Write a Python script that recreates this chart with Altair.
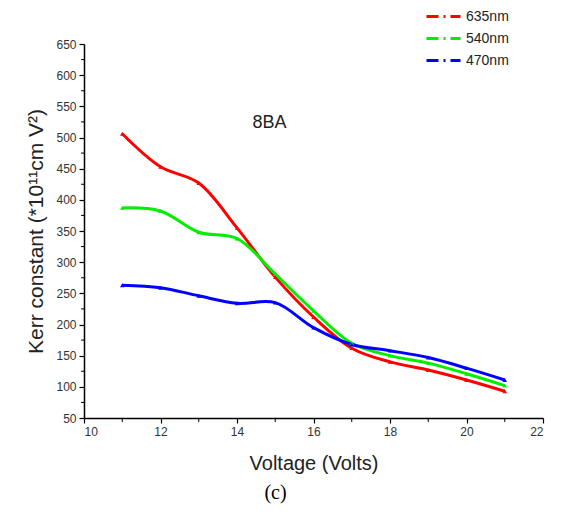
import altair as alt
import pandas as pd

# ---- data ----
voltage = [11, 12, 13, 14, 15, 16, 17, 18, 19, 20, 21]
series_names = ["635nm", "540nm", "470nm"]
kerr_635 = [506, 453, 427, 355, 276, 212, 162, 140, 127, 111, 93]
kerr_540 = [387, 382, 348, 338, 281, 222, 170, 150, 138, 121, 102]
kerr_470 = [263, 259, 246, 234, 235, 195, 168, 158, 147, 130, 111]
series_colors = ["#ff0000", "#00ee00", "#0000ff"]

x_ticks = [10, 12, 14, 16, 18, 20, 22]
x_minor = [11, 13, 15, 17, 19, 21]
y_ticks = [50, 100, 150, 200, 250, 300, 350, 400, 450, 500, 550, 600, 650]
y_minor = [75, 125, 175, 225, 275, 325, 375, 425, 475, 525, 575, 625]

note_text = ["8BA"]
note_x = [14.85]
note_y = [523]

rows = []
for name, vals in zip(series_names, [kerr_635, kerr_540, kerr_470]):
    for v, k in zip(voltage, vals):
        rows.append({"voltage": v, "kerr": k, "series": name})
df = pd.DataFrame(rows)

W, H = 459, 374
FONT = "Liberation Sans"

xscale = alt.Scale(domain=[10, 22], nice=False, zero=False)
yscale = alt.Scale(domain=[50, 650], nice=False, zero=False)
color_scale = alt.Scale(domain=series_names, range=series_colors)

x_axis = alt.Axis(values=x_ticks, title="Voltage (Volts)", grid=False,
                  tickSize=5, labelPadding=3, titlePadding=16,
                  titleFontSize=20, labelFontSize=12)
y_axis = alt.Axis(values=y_ticks, title="Kerr constant (*10¹¹cm V²)",
                  grid=False, tickSize=5, labelPadding=3, titlePadding=9,
                  titleFontSize=21, labelFontSize=12)
x_enc = alt.X("voltage:Q", scale=xscale, axis=x_axis)
y_enc = alt.Y("kerr:Q", scale=yscale, axis=y_axis)

legend = alt.Legend(title=None, orient="none", legendX=348, legendY=-39,
                    symbolType="M-1.7,0H1.7", symbolStrokeWidth=3, symbolSize=400,
                    symbolDash=[12, 5, 2, 5], symbolFillColor="transparent",
                    labelFontSize=14, labelFont=FONT,
                    labelColor="#222", rowPadding=3, labelOffset=11)

base = alt.Chart(df)
lines = base.mark_line(interpolate="catmull-rom", strokeWidth=3).encode(
    x=x_enc, y=y_enc,
    color=alt.Color("series:N", scale=color_scale, legend=legend),
)
points = base.mark_point(filled=True, size=20, opacity=1, shape="triangle-up").encode(
    x=x_enc, y=y_enc,
    color=alt.Color("series:N", scale=color_scale, legend=legend),
)

ym = alt.Chart(pd.DataFrame({"kerr": y_minor})).mark_rule(color="black", strokeWidth=1).encode(
    y=y_enc, x=alt.value(-3), x2=alt.value(0))
xm = alt.Chart(pd.DataFrame({"voltage": x_minor})).mark_rule(color="black", strokeWidth=1).encode(
    x=x_enc, y=alt.value(H), y2=alt.value(H + 4))

note = alt.Chart(pd.DataFrame({"t": note_text, "voltage": note_x, "kerr": note_y})).mark_text(
    font=FONT, fontSize=18, color="#222").encode(x=x_enc, y=y_enc, text="t:N")

chart = alt.layer(lines, points, ym, xm, note).properties(
    width=W, height=H,
    autosize=alt.AutoSizeParams(type="none"),
    padding={"left": 76, "top": 36, "right": 14, "bottom": 86},
    title=alt.TitleParams("(c)", orient="bottom", anchor="middle", font="Liberation Serif",
                          fontSize=20, fontWeight="normal", color="black", dx=-38, offset=10),
).configure_view(stroke=None).configure_axis(
    domainColor="black", domainWidth=1.5, tickColor="black", tickWidth=1.2,
    labelFont=FONT, titleFont=FONT, labelColor="#333", titleColor="#222",
    titleFontWeight="normal",
)

chart.save("out.html", embed_options={"renderer": "svg", "actions": False})
